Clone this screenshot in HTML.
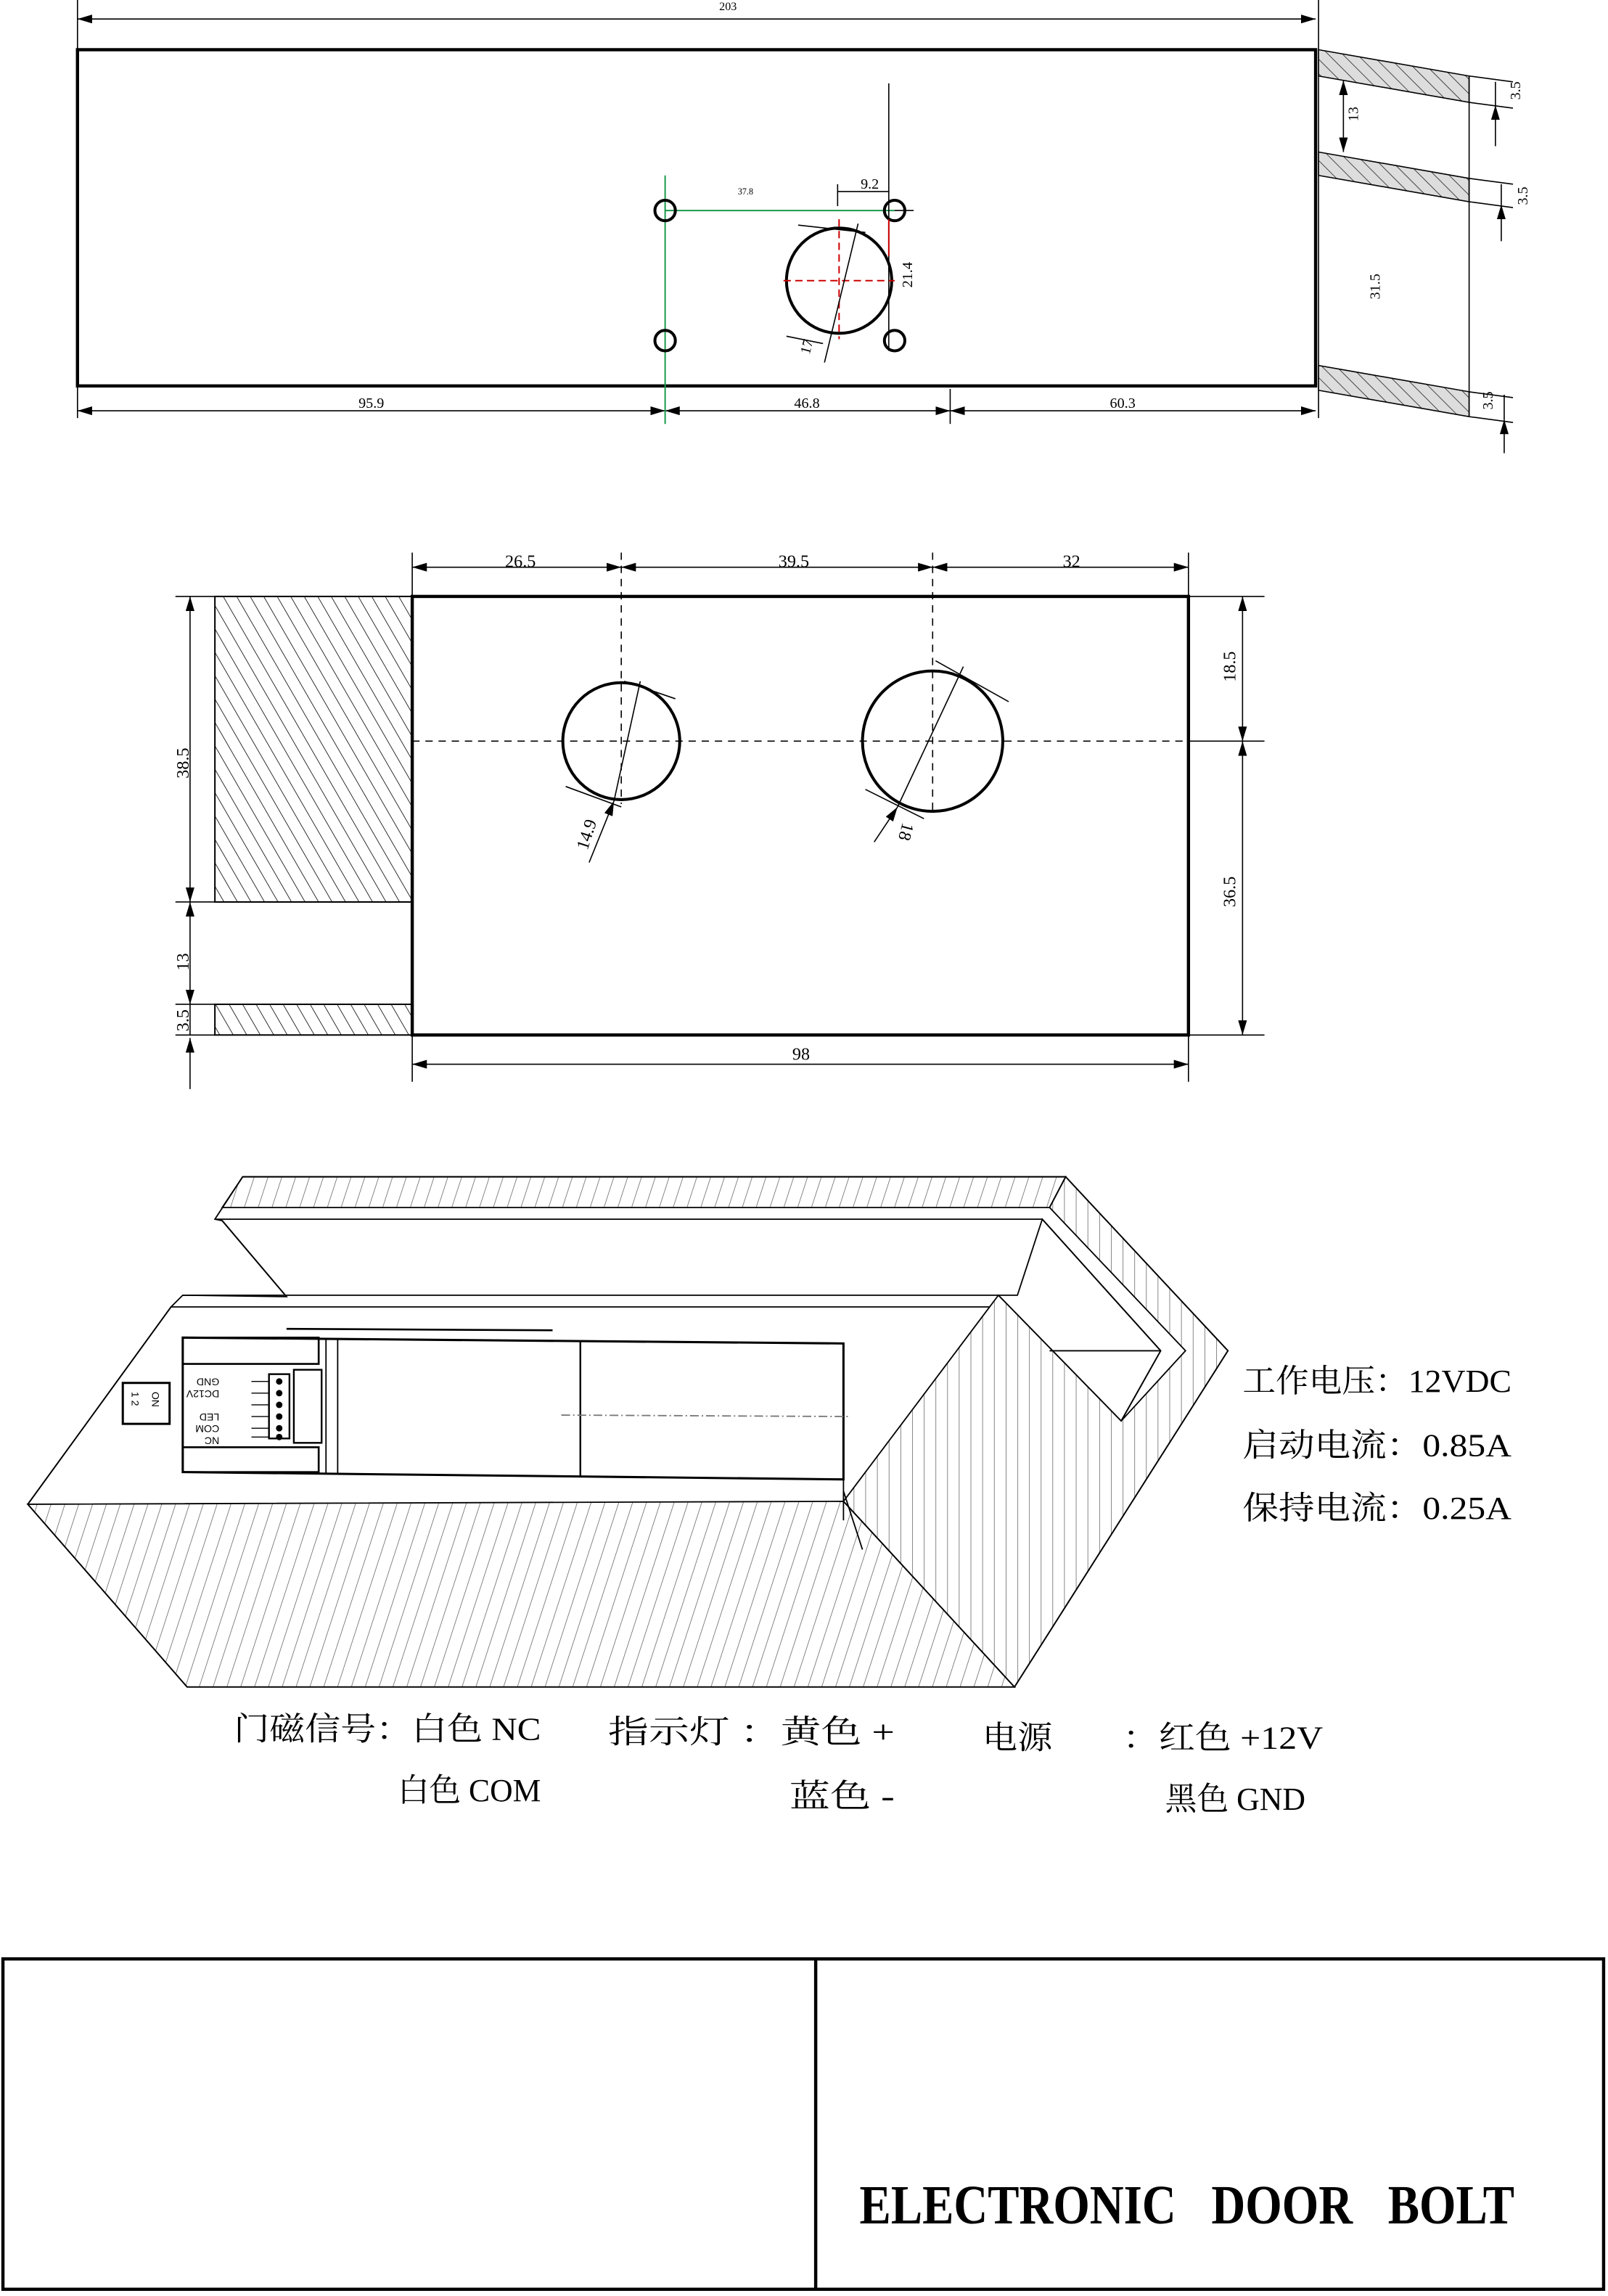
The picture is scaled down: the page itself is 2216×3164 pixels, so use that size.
<!DOCTYPE html>
<html><head><meta charset="utf-8"><style>html,body{margin:0;padding:0;background:#fff}svg{display:block}</style></head><body>
<svg xmlns="http://www.w3.org/2000/svg" width="2216" height="3164" viewBox="0 0 1100 1570.6">
<defs>
<marker id="a" viewBox="0 0 10 6" refX="10" refY="3" markerWidth="10" markerHeight="6" markerUnits="userSpaceOnUse" orient="auto-start-reverse"><path d="M0,0L10,3L0,6z" fill="#000"/></marker>
<pattern id="h2" patternUnits="userSpaceOnUse" width="8" height="8" patternTransform="rotate(-30)"><line x1="0" y1="0" x2="0" y2="8" stroke="#000" stroke-width="0.8"/></pattern>
<pattern id="h1" patternUnits="userSpaceOnUse" width="7" height="7" patternTransform="rotate(-45)"><rect width="7" height="7" fill="#ddd"/><line x1="0" y1="0" x2="0" y2="7" stroke="#222" stroke-width="0.8"/></pattern>
<pattern id="h3" patternUnits="userSpaceOnUse" width="9" height="9" patternTransform="rotate(18)"><line x1="0" y1="0" x2="0" y2="9" stroke="#555" stroke-width="0.7"/></pattern>
<pattern id="h4" patternUnits="userSpaceOnUse" width="8" height="8"><line x1="0" y1="0" x2="0" y2="8" stroke="#555" stroke-width="0.7"/></pattern>
</defs>
<g font-family="Liberation Serif, serif" font-size="10" fill="#000" stroke="none">
<!-- Drawing 1 -->
<g stroke="#000" fill="none">
<rect x="53" y="34" width="847" height="230" stroke-width="2.2"/>
<line x1="53" y1="0" x2="53" y2="286" stroke-width="0.8"/>
<line x1="902" y1="0" x2="902" y2="286" stroke-width="0.8"/>
<line x1="53" y1="13" x2="900" y2="13" stroke-width="0.8" marker-start="url(#a)" marker-end="url(#a)"/>
<line x1="53" y1="281" x2="455" y2="281" stroke-width="0.8" marker-start="url(#a)" marker-end="url(#a)"/>
<line x1="455" y1="281" x2="650" y2="281" stroke-width="0.8" marker-start="url(#a)" marker-end="url(#a)"/>
<line x1="650" y1="281" x2="900" y2="281" stroke-width="0.8" marker-start="url(#a)" marker-end="url(#a)"/>
<line x1="650" y1="266" x2="650" y2="290" stroke-width="0.8"/>
<line x1="455" y1="120" x2="455" y2="290" stroke="#1a9a4a" stroke-width="1"/>
<line x1="455" y1="144" x2="612" y2="144" stroke="#1a9a4a" stroke-width="1"/>
<line x1="608" y1="57" x2="608" y2="240" stroke-width="0.8"/>
<line x1="612" y1="144" x2="625" y2="144" stroke-width="0.8"/>
<line x1="573" y1="126" x2="573" y2="141" stroke-width="0.8"/>
<line x1="573" y1="131" x2="608" y2="131" stroke-width="0.8"/>
<circle cx="455" cy="144" r="7" stroke-width="2"/><circle cx="612" cy="144" r="7" stroke-width="2"/>
<circle cx="455" cy="233" r="7" stroke-width="2"/><circle cx="612" cy="233" r="7" stroke-width="2"/>
<circle cx="574" cy="192" r="36" stroke-width="2"/>
<line x1="574" y1="150" x2="574" y2="232" stroke="#c00" stroke-dasharray="5,3"/>
<line x1="536" y1="192" x2="612" y2="192" stroke="#c00" stroke-dasharray="5,3"/>
<line x1="608" y1="150" x2="608" y2="175" stroke="#c00"/>
<line x1="564" y1="248" x2="587" y2="153" stroke-width="0.8"/>
<line x1="546" y1="154" x2="592" y2="159" stroke-width="0.8"/>
<line x1="538" y1="230" x2="563" y2="235" stroke-width="0.8"/>
<polygon points="902,34 1005,52 1005,70 902,52" fill="url(#h1)" stroke-width="0.8"/>
<polygon points="902,104 1005,122 1005,138 902,120" fill="url(#h1)" stroke-width="0.8"/>
<polygon points="902,250 1005,268 1005,285 902,267" fill="url(#h1)" stroke-width="0.8"/>
<line x1="1005" y1="52" x2="1005" y2="285" stroke-width="0.8"/>
<line x1="1005" y1="52" x2="1035" y2="56" stroke-width="0.8"/><line x1="1005" y1="70" x2="1035" y2="74" stroke-width="0.8"/>
<line x1="1005" y1="122" x2="1035" y2="126" stroke-width="0.8"/><line x1="1005" y1="138" x2="1035" y2="142" stroke-width="0.8"/>
<line x1="1005" y1="268" x2="1035" y2="272" stroke-width="0.8"/><line x1="1005" y1="285" x2="1035" y2="289" stroke-width="0.8"/>
<line x1="1023" y1="100" x2="1023" y2="72" stroke-width="0.8" marker-end="url(#a)"/>
<line x1="1023" y1="56" x2="1023" y2="72" stroke-width="0.8"/>
<line x1="1027" y1="165" x2="1027" y2="140" stroke-width="0.8" marker-end="url(#a)"/>
<line x1="1027" y1="126" x2="1027" y2="140" stroke-width="0.8"/>
<line x1="1029" y1="310" x2="1029" y2="287" stroke-width="0.8" marker-end="url(#a)"/>
<line x1="1029" y1="270" x2="1029" y2="287" stroke-width="0.8"/>
<line x1="919" y1="55" x2="919" y2="104" stroke-width="0.8" marker-start="url(#a)" marker-end="url(#a)"/>
</g>
<text x="498" y="7" font-size="8" text-anchor="middle">203</text>
<text x="254" y="279" text-anchor="middle">95.9</text>
<text x="552" y="279" text-anchor="middle">46.8</text>
<text x="768" y="279" text-anchor="middle">60.3</text>
<text x="510" y="133" font-size="6" text-anchor="middle">37.8</text>
<text x="595" y="129" text-anchor="middle">9.2</text>
<text transform="translate(624,188) rotate(-90)" text-anchor="middle">21.4</text>
<text transform="translate(555,238) rotate(-75)" text-anchor="middle">17</text>
<text transform="translate(929,78) rotate(-90)" text-anchor="middle">13</text>
<text transform="translate(944,196) rotate(-90)" text-anchor="middle">31.5</text>
<text transform="translate(1040,62) rotate(-90)" text-anchor="middle">3.5</text>
<text transform="translate(1045,134) rotate(-90)" text-anchor="middle">3.5</text>
<text transform="translate(1021,274) rotate(-90)" text-anchor="middle">3.5</text>

<!-- Drawing 2 -->
<g stroke="#000" fill="none">
<rect x="282" y="408" width="531" height="300" stroke-width="2.2"/>
<rect x="147" y="408" width="135" height="209" fill="url(#h2)" stroke-width="1"/>
<rect x="147" y="687" width="135" height="21" fill="url(#h2)" stroke-width="1"/>
<line x1="120" y1="408" x2="147" y2="408" stroke-width="0.8"/>
<line x1="120" y1="617" x2="282" y2="617" stroke-width="0.8"/>
<line x1="120" y1="687" x2="282" y2="687" stroke-width="0.8"/>
<line x1="120" y1="708" x2="147" y2="708" stroke-width="0.8"/>
<line x1="130" y1="408" x2="130" y2="617" stroke-width="0.8" marker-start="url(#a)" marker-end="url(#a)"/>
<line x1="130" y1="617" x2="130" y2="687" stroke-width="0.8" marker-start="url(#a)" marker-end="url(#a)"/>
<line x1="130" y1="745" x2="130" y2="710" stroke-width="0.8" marker-end="url(#a)"/>
<line x1="130" y1="687" x2="130" y2="708" stroke-width="0.8"/>
<line x1="282" y1="378" x2="282" y2="740" stroke-width="0.8"/>
<line x1="813" y1="378" x2="813" y2="740" stroke-width="0.8"/>
<line x1="282" y1="388" x2="425" y2="388" stroke-width="0.8" marker-start="url(#a)" marker-end="url(#a)"/>
<line x1="425" y1="388" x2="638" y2="388" stroke-width="0.8" marker-start="url(#a)" marker-end="url(#a)"/>
<line x1="638" y1="388" x2="813" y2="388" stroke-width="0.8" marker-start="url(#a)" marker-end="url(#a)"/>
<line x1="282" y1="728" x2="813" y2="728" stroke-width="0.8" marker-start="url(#a)" marker-end="url(#a)"/>
<line x1="813" y1="408" x2="865" y2="408" stroke-width="0.8"/>
<line x1="813" y1="507" x2="865" y2="507" stroke-width="0.8"/>
<line x1="813" y1="708" x2="865" y2="708" stroke-width="0.8"/>
<line x1="850" y1="408" x2="850" y2="507" stroke-width="0.8" marker-start="url(#a)" marker-end="url(#a)"/>
<line x1="850" y1="507" x2="850" y2="708" stroke-width="0.8" marker-start="url(#a)" marker-end="url(#a)"/>
<line x1="282" y1="507" x2="813" y2="507" stroke-width="0.8" stroke-dasharray="5,4"/>
<line x1="425" y1="378" x2="425" y2="550" stroke-width="0.8" stroke-dasharray="5,4"/>
<line x1="638" y1="378" x2="638" y2="556" stroke-width="0.8" stroke-dasharray="5,4"/>
<circle cx="425" cy="507" r="40" stroke-width="2"/>
<circle cx="638" cy="507" r="48" stroke-width="2"/>
<line x1="427" y1="466" x2="462" y2="478" stroke-width="0.8"/>
<line x1="387" y1="538" x2="425" y2="552" stroke-width="0.8"/>
<line x1="403" y1="590" x2="420" y2="548" stroke-width="0.8" marker-end="url(#a)"/>
<line x1="420" y1="548" x2="438" y2="466" stroke-width="0.8"/>
<line x1="640" y1="452" x2="690" y2="480" stroke-width="0.8"/>
<line x1="592" y1="540" x2="632" y2="560" stroke-width="0.8"/>
<line x1="598" y1="576" x2="614" y2="552" stroke-width="0.8" marker-end="url(#a)"/>
<line x1="614" y1="552" x2="659" y2="456" stroke-width="0.8"/>
</g>
<text x="356" y="388" font-size="12" text-anchor="middle">26.5</text>
<text x="543" y="388" font-size="12" text-anchor="middle">39.5</text>
<text x="733" y="388" font-size="12" text-anchor="middle">32</text>
<text x="548" y="725" font-size="12" text-anchor="middle">98</text>
<text transform="translate(129,522) rotate(-90)" font-size="12" text-anchor="middle">38.5</text>
<text transform="translate(129,658) rotate(-90)" font-size="12" text-anchor="middle">13</text>
<text transform="translate(129,698) rotate(-90)" font-size="12" text-anchor="middle">3.5</text>
<text transform="translate(845,456) rotate(-90)" font-size="12" text-anchor="middle">18.5</text>
<text transform="translate(845,610) rotate(-90)" font-size="12" text-anchor="middle">36.5</text>
<text transform="translate(405,572) rotate(-72)" font-size="12" text-anchor="middle">14.9</text>
<text transform="translate(616,568) rotate(105)" font-size="12" text-anchor="middle">18</text>

<!-- Drawing 3 -->
<g stroke="#000" fill="none" stroke-width="0.9">
<polygon points="166,805 729,805 840,924 694,1154 128,1154 19,1029 117,894 125,886 196,887 152,835 147,834" fill="#fff"/>
<polygon points="166,805 729,805 718,826 152,826" fill="url(#h3)"/>
<polygon points="729,805 840,924 694,1154 577,1027 677,894 683,886 767,972 811,924 718,826" fill="url(#h4)"/>
<polygon points="19,1029 577,1027 694,1154 128,1154" fill="url(#h3)"/>
<polygon points="713,834 794,924 767,972 683,886 696,886" fill="#fff"/>
<line x1="147" y1="834" x2="713" y2="834"/>
<line x1="713" y1="834" x2="794" y2="924"/>
<line x1="794" y1="924" x2="767" y2="972"/>
<line x1="718" y1="924" x2="794" y2="924"/>
<line x1="152" y1="835" x2="196" y2="887"/>
<line x1="125" y1="886" x2="683" y2="886"/>
<line x1="117" y1="894" x2="677" y2="894"/>
<line x1="117" y1="894" x2="19" y2="1029"/>
<line x1="577" y1="1005" x2="577" y2="1040" />
<line x1="577" y1="1020" x2="590" y2="1060"/>
<line x1="196" y1="909" x2="378" y2="910" stroke-width="1.3"/>
<polygon points="125,915 577,919 577,1012 125,1007" fill="#fff" stroke-width="1.5"/>
<line x1="397" y1="917" x2="397" y2="1010" stroke-width="1.2"/>
<line x1="223" y1="916" x2="223" y2="1008"/><line x1="231" y1="916" x2="231" y2="1008"/>
<rect x="125" y="915" width="93" height="18" stroke-width="1.3"/>
<rect x="125" y="990" width="93" height="17" stroke-width="1.3"/>
<rect x="201" y="937" width="19" height="50" stroke-width="1.2"/>
<rect x="184" y="940" width="14" height="44" stroke-width="1.2"/>
<rect x="84" y="946" width="32" height="28" stroke-width="1.5"/>
<line x1="384" y1="968" x2="582" y2="969" stroke="#777" stroke-dasharray="6,2,1,2"/>
</g>
<g fill="#000">
<circle cx="191" cy="945" r="2.2"/><circle cx="191" cy="953" r="2.2"/><circle cx="191" cy="961" r="2.2"/><circle cx="191" cy="969" r="2.2"/><circle cx="191" cy="977" r="2.2"/><circle cx="191" cy="983" r="2.2"/>
</g>
<g stroke="#000" stroke-width="0.7"><line x1="172" y1="945" x2="184" y2="945"/><line x1="172" y1="953" x2="184" y2="953"/><line x1="172" y1="961" x2="184" y2="961"/><line x1="172" y1="969" x2="184" y2="969"/><line x1="172" y1="977" x2="184" y2="977"/><line x1="172" y1="983" x2="184" y2="983"/></g>
<g font-family="Liberation Sans, sans-serif" font-size="7">
<text transform="translate(150,943) rotate(180)">GND</text>
<text transform="translate(150,951) rotate(180)">DC12V</text>
<text transform="translate(150,967) rotate(180)">LED</text>
<text transform="translate(150,975) rotate(180)">COM</text>
<text transform="translate(150,983) rotate(180)">NC</text>
<text transform="translate(104,952) rotate(90)" font-size="7">ON</text>
<text transform="translate(90,952) rotate(90)" font-size="7">1 2</text>
</g>

<g font-family="Liberation Serif, Noto Serif CJK SC, serif" font-size="22">
<text x="850" y="952" textLength="184" lengthAdjust="spacingAndGlyphs">工作电压：12VDC</text>
<text x="850" y="996" textLength="184" lengthAdjust="spacingAndGlyphs">启动电流：0.85A</text>
<text x="850" y="1039" textLength="184" lengthAdjust="spacingAndGlyphs">保持电流：0.25A</text>
<text x="160" y="1190" textLength="210" lengthAdjust="spacingAndGlyphs">门磁信号：白色 NC</text>
<text x="272" y="1232" textLength="98" lengthAdjust="spacingAndGlyphs">白色 COM</text>
<text x="416" y="1192" textLength="196" lengthAdjust="spacingAndGlyphs">指示灯 ：黄色 +</text>
<text x="540" y="1236" textLength="72" lengthAdjust="spacingAndGlyphs">蓝色 -</text>
<text x="672" y="1196" textLength="48" lengthAdjust="spacingAndGlyphs">电源</text>
<text x="768" y="1196" textLength="137" lengthAdjust="spacingAndGlyphs">：红色 +12V</text>
<text x="797" y="1238" textLength="96" lengthAdjust="spacingAndGlyphs">黑色 GND</text>
</g>

<!-- Title block -->
<g stroke="#000" fill="none" stroke-width="2.2">
<rect x="2" y="1340" width="1095" height="226"/>
<line x1="558" y1="1340" x2="558" y2="1566"/>
</g>
<text x="588" y="1521" font-family="Liberation Serif, serif" font-weight="bold" font-size="38" textLength="448" lengthAdjust="spacingAndGlyphs" xml:space="preserve">ELECTRONIC   DOOR   BOLT</text>
</g>
</svg>
</body></html>
